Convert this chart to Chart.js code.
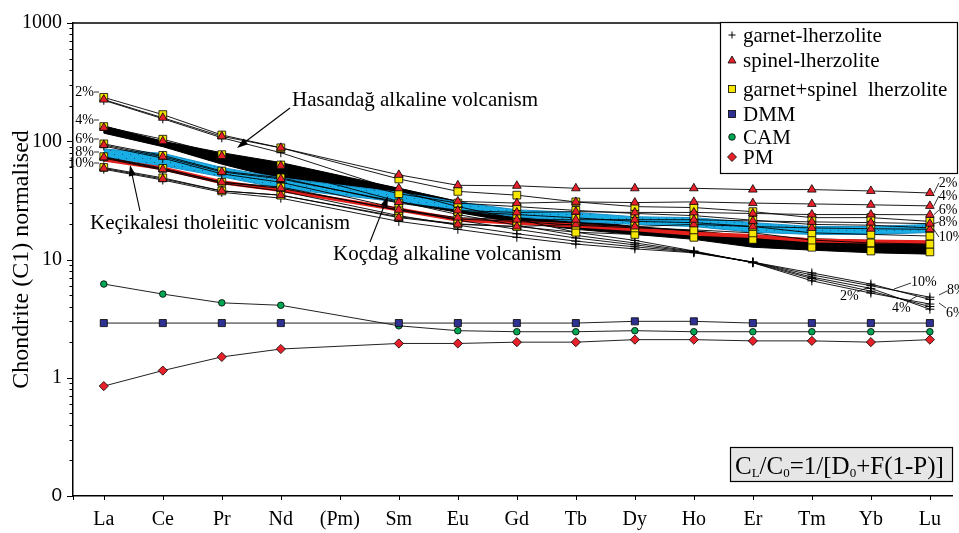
<!DOCTYPE html>
<html>
<head>
<meta charset="utf-8">
<script src="https://cdn.jsdelivr.net/npm/chart.js@4.4.1/dist/chart.umd.min.js"></script>
<style>
  html, body { margin: 0; padding: 0; background: #fff; }
  canvas { display: block; }
</style>
</head>
<body>
<canvas id="ree" width="959" height="533"></canvas>
<script>
// Rare earth elements along the x axis (Pm has no data)
const elements = ['La','Ce','Pr','Nd','(Pm)','Sm','Eu','Gd','Tb','Dy','Ho','Er','Tm','Yb','Lu'];
const yTicks = [0.1, 1, 10, 100, 1000];
const yTickText = ['0', '1', '10', '100', '1000'];
const meltDegrees = ['2%', '4%', '6%', '8%', '10%'];

// Source compositions (chondrite normalised)
const dmm = [2.9, 2.9, 2.9, 2.9, null, 2.9, 2.9, 2.9, 2.9, 3.0, 3.0, 2.9, 2.9, 2.9, 2.9];
const cam = [6.2, 5.1, 4.3, 4.1, null, 2.75, 2.5, 2.45, 2.45, 2.5, 2.45, 2.45, 2.45, 2.45, 2.45];
const pm  = [0.85, 1.15, 1.5, 1.75, null, 1.95, 1.95, 2.0, 2.0, 2.1, 2.1, 2.05, 2.05, 2.0, 2.1];

// Non-modal batch melts of spinel lherzolite, F = 2..10 %
const sp2  = [225, 158, 110, 88, null, 52, 42.4, 42, 40, 40, 40, 39, 39, 38, 36.5];
const sp4  = [130, 100, 75, 62, null, 40, 31, 30, 30.7, 30.3, 30.7, 30, 29.5, 29, 28.4];
const sp6  = [93, 74, 55, 48, null, 30.6, 26, 25, 25.4, 25, 25, 24.5, 24, 24, 23.9];
const sp8  = [73, 58, 45, 40, null, 26.3, 22.6, 21.7, 21.7, 21.7, 21.7, 21.2, 20.8, 20.5, 20.1];
const sp10 = [59, 48, 38, 35, null, 22.6, 19.8, 19, 19.8, 19, 19.8, 19, 18.5, 18.2, 18];

// Melts of garnet + spinel lherzolite
const gs2  = [235, 168, 113, 88, null, 48, 37.7, 35, 30.7, 28, 27.5, 25.4, 22.6, 22.6, 21];
const gs4  = [133, 104, 77, 63, null, 36, 30, 28, 26, 24.5, 23.5, 21.5, 19.8, 19.5, 18.5];
const gs6  = [95, 76, 56, 49, null, 30, 25.5, 24, 22.5, 21, 20.5, 19, 16.8, 16.3, 15.8];
const gs8  = [74, 59, 45, 41, null, 26, 22, 21, 19.5, 18.5, 17.8, 16.8, 14.6, 13.8, 13.5];
const gs10 = [60, 49, 38, 35, null, 23, 20, 19, 17, 16.3, 15.4, 14.8, 12.7, 11.8, 11.6];

// Melts of garnet lherzolite
const gt2  = [222, 155, 107, 80, null, 38, 28, 22, 17, 14.5, 11.8, 9.4, 6.6, 5.2, 4.2];
const gt4  = [128, 98, 72, 57, null, 31, 24, 19.5, 16, 13.8, 11.7, 9.4, 6.9, 5.4, 4.0];
const gt6  = [91, 72, 53, 45, null, 27, 21.5, 18, 15.2, 13.3, 11.6, 9.5, 7.1, 5.7, 3.8];
const gt8  = [72, 57, 44, 38, null, 23.5, 19.5, 16.5, 14.3, 12.8, 11.5, 9.5, 7.4, 6.0, 4.8];
const gt10 = [58, 47, 37, 33, null, 21, 18, 15.4, 13.5, 12.3, 11.4, 9.5, 7.7, 6.2, 4.6];

// Fields of the volcanic suites
const hasanUpper = [135, 100, 80, 66, null, 40, 31, 24.5, 21.7, 19, 17.5, 15.7, 15, 14.5, 14.2];
const hasanLower = [117, 90, 64, 48, null, 31, 25, 20.5, 18, 16.3, 14.8, 12.7, 12, 11.4, 11.1];
const kocUpper   = [86, 79, 60, 49, null, 37, 30.6, 26.3, 25, 23, 22.6, 20.5, 19, 19, 19.8];
const kocLower   = [68, 62, 50, 40, null, 30.6, 26.3, 23, 21, 19.8, 19, 17, 16.3, 16.3, 16.9];
const kecikalesi = [70, 59, 45, 38.6, null, 26.5, 21.7, 20.5, 19.4, 18, 16.5, 15.8, 14.5, 14.2, 14];

const legendItems = ['garnet-lherzolite', 'spinel-lherzolite', 'garnet+spinel  lherzolite', 'DMM', 'CAM', 'PM'];

const SERIF = "'Liberation Serif', 'Times New Roman', serif";
const SANS = "'Liberation Sans', Arial, sans-serif";

const pts = arr => arr.map((v, i) => ({ x: i, y: v })).filter(p => p.y !== null);

// Cyan stipple used for the Koçdağ field
function stipple() {
  const c = document.createElement('canvas');
  c.width = 8; c.height = 8;
  const g = c.getContext('2d');
  g.fillStyle = '#19ade6';
  g.fillRect(0, 0, 8, 8);
  g.fillStyle = 'rgba(20,60,90,0.75)';
  g.fillRect(2, 2, 1, 1);
  g.fillRect(6, 6, 1, 1);
  return g.createPattern(c, 'repeat');
}

function curve(arr, order, color = '#000', width = 0.9) {
  return { data: pts(arr), borderColor: color, borderWidth: width, pointRadius: 0,
           fill: false, tension: 0, order };
}
function marks(arr, style, bg, r, order, bw = 0.8) {
  return { data: pts(arr), showLine: false, pointStyle: style, pointRadius: r,
           pointBackgroundColor: bg, pointBorderColor: '#000', pointBorderWidth: bw, order };
}

const spinel = [sp2, sp4, sp6, sp8, sp10];
const mixed = [gs2, gs4, gs6, gs8, gs10];
const garnet = [gt2, gt4, gt6, gt8, gt10];

const datasets = [];
// fields
datasets.push({ data: pts(hasanUpper), borderColor: '#000', borderWidth: 1, pointRadius: 0, fill: false, order: 12 });
datasets.push({ data: pts(hasanLower), borderColor: '#000', borderWidth: 1, pointRadius: 0, fill: '-1', backgroundColor: '#000', order: 12 });
datasets.push({ data: pts(kocUpper), borderColor: '#1590c8', borderWidth: 1, pointRadius: 0, fill: false, order: 11 });
datasets.push({ data: pts(kocLower), borderColor: '#1590c8', borderWidth: 1, pointRadius: 0, fill: '-1', backgroundColor: stipple(), order: 11 });
datasets.push(curve(kecikalesi, 10, '#e3201b', 4));
// melting curves
[...garnet, ...mixed, ...spinel].forEach(a => datasets.push(curve(a, 8)));
// source compositions
datasets.push(curve(dmm, 7, '#222', 1));
datasets.push(curve(cam, 7, '#222', 1));
datasets.push(curve(pm, 7, '#222', 1));
// symbols
garnet.forEach(a => datasets.push(marks(a, 'cross', '#000', 4.5, 4, 1)));
mixed.forEach(a => datasets.push(marks(a, 'rect', '#f7e600', 5.5, 3)));
spinel.forEach(a => datasets.push(marks(a, 'triangle', '#e8202a', 5, 2)));
datasets.push(marks(dmm, 'rect', '#2e3192', 5, 1));
datasets.push(marks(cam, 'circle', '#00a651', 3.3, 1));
datasets.push(marks(pm, 'rectRot', '#e8202a', 4.6, 1));

function arrow(ctx, x1, y1, x2, y2) {
  const a = Math.atan2(y2 - y1, x2 - x1);
  const L = 11, W = 3.6;
  ctx.beginPath();
  ctx.moveTo(x1, y1);
  ctx.lineTo(x2 - Math.cos(a) * L * 0.8, y2 - Math.sin(a) * L * 0.8);
  ctx.stroke();
  ctx.beginPath();
  ctx.moveTo(x2, y2);
  ctx.lineTo(x2 - Math.cos(a) * L - Math.sin(a) * W, y2 - Math.sin(a) * L + Math.cos(a) * W);
  ctx.lineTo(x2 - Math.cos(a) * L + Math.sin(a) * W, y2 - Math.sin(a) * L - Math.cos(a) * W);
  ctx.closePath();
  ctx.fill();
}

function seg(ctx, x1, y1, x2, y2) {
  ctx.beginPath(); ctx.moveTo(x1, y1); ctx.lineTo(x2, y2); ctx.stroke();
}

const decor = {
  id: 'decor',
  beforeDraw(chart) {
    const c = chart.ctx;
    c.save(); c.fillStyle = '#fff'; c.fillRect(0, 0, chart.width, chart.height); c.restore();
  },
  afterDraw(chart) {
    const ctx = chart.ctx, ca = chart.chartArea, xs = chart.scales.x, ys = chart.scales.y;
    ctx.save();
    ctx.strokeStyle = '#000';
    ctx.fillStyle = '#000';

    // frame top
    ctx.lineWidth = 1.5;
    seg(ctx, ca.left, ca.top, ca.right, ca.top);

    // y tick marks: decades long, intermediate short
    ctx.lineWidth = 1;
    for (let d = -1; d <= 3; d++) {
      for (let m = 1; m <= 9; m++) {
        const v = m * Math.pow(10, d);
        if (v > 1000.0001) continue;
        const p = Math.round(ys.getPixelForValue(v)) + 0.5;
        seg(ctx, ca.left - (m === 1 ? 6 : 3.5), p, ca.left, p);
      }
    }
    // x tick marks
    const xt = [ca.left].concat(elements.map((e, i) => xs.getPixelForValue(i)));
    xt.forEach(px => { const p = Math.round(px) + 0.5; seg(ctx, p, ca.bottom, p, ca.bottom + 4); });

    // melt-degree labels at the light REE end
    ctx.font = '14px ' + SERIF;
    ctx.textBaseline = 'middle';
    ctx.textAlign = 'right';
    const leftY = [92, 120, 139, 152, 163];
    meltDegrees.forEach((t, i) => {
      ctx.fillText(t, 94, leftY[i]);
      ctx.lineWidth = 0.8;
      seg(ctx, 94, leftY[i], 99, leftY[i]);
    });

    // melt-degree labels at the heavy REE end (spinel curves)
    ctx.textAlign = 'left';
    const xLu = xs.getPixelForValue(14);
    const rightY = [183, 196, 210, 222, 237];
    spinel.forEach((a, i) => {
      const yc = ys.getPixelForValue(a[14]);
      seg(ctx, xLu + 4, yc, xLu + 9, rightY[i]);
      ctx.fillText(meltDegrees[i], xLu + 9, rightY[i]);
    });

    // melt-degree labels for the garnet curves
    const gl = [
      { t: '2%', x: 840, y: 296, l: [857, 292, 869, 287] },
      { t: '4%', x: 892, y: 308, l: [907, 302, 917, 296] },
      { t: '6%', x: 946, y: 313, l: [946, 308, 939, 303] },
      { t: '8%', x: 947, y: 290, l: [947, 291, 939, 295] },
      { t: '10%', x: 911, y: 282, l: [911, 283, 894, 289] }
    ];
    gl.forEach(g => { seg(ctx, g.l[0], g.l[1], g.l[2], g.l[3]); ctx.fillText(g.t, g.x, g.y); });

    // suite names and arrows
    ctx.font = '21px ' + SERIF;
    ctx.fillText('Hasandağ alkaline volcanism', 292, 100);
    ctx.fillText('Keçikalesi tholeiitic volcanism', 90, 223);
    ctx.fillText('Koçdağ alkaline volcanism', 333, 254);
    ctx.lineWidth = 1.1;
    arrow(ctx, 290, 108, 237, 148);
    arrow(ctx, 140, 211, 130, 165);
    arrow(ctx, 370, 242, 388, 196);

    // legend
    ctx.lineWidth = 1.2;
    ctx.fillStyle = '#fff';
    ctx.fillRect(720.5, 22.5, 237, 151);
    ctx.strokeRect(720.5, 22.5, 237, 151);
    const rowY = [35, 60, 89, 114, 137, 157];
    const mx = 732, tx = 743;
    ctx.fillStyle = '#000';
    ctx.font = '21px ' + SERIF;
    legendItems.forEach((t, i) => ctx.fillText(t, tx, rowY[i] + 1));
    // + garnet
    ctx.lineWidth = 1;
    seg(ctx, mx - 3.5, rowY[0], mx + 3.5, rowY[0]);
    seg(ctx, mx, rowY[0] - 3.5, mx, rowY[0] + 3.5);
    ctx.lineWidth = 0.8;
    // triangle
    ctx.fillStyle = '#e8202a';
    ctx.beginPath();
    ctx.moveTo(mx, rowY[1] - 4); ctx.lineTo(mx + 4, rowY[1] + 3); ctx.lineTo(mx - 4, rowY[1] + 3); ctx.closePath();
    ctx.fill(); ctx.stroke();
    // squares
    ctx.fillStyle = '#f7e600';
    ctx.fillRect(mx - 3.5, rowY[2] - 3.5, 7, 7); ctx.strokeRect(mx - 3.5, rowY[2] - 3.5, 7, 7);
    ctx.fillStyle = '#2e3192';
    ctx.fillRect(mx - 3.5, rowY[3] - 3.5, 7, 7); ctx.strokeRect(mx - 3.5, rowY[3] - 3.5, 7, 7);
    // circle
    ctx.fillStyle = '#00a651';
    ctx.beginPath(); ctx.arc(mx, rowY[4], 3.3, 0, Math.PI * 2); ctx.fill(); ctx.stroke();
    // diamond
    ctx.fillStyle = '#e8202a';
    ctx.beginPath();
    ctx.moveTo(mx, rowY[5] - 4.5); ctx.lineTo(mx + 4.5, rowY[5]); ctx.lineTo(mx, rowY[5] + 4.5); ctx.lineTo(mx - 4.5, rowY[5]); ctx.closePath();
    ctx.fill(); ctx.stroke();

    // melting equation
    ctx.fillStyle = '#e6e6e6';
    ctx.fillRect(730.5, 447.5, 222, 34);
    ctx.lineWidth = 1.2;
    ctx.strokeRect(730.5, 447.5, 222, 34);
    ctx.fillStyle = '#000';
    const parts = [['C', 0], ['L', 1], ['/C', 0], ['0', 1], ['=1/[D', 0], ['0', 1], ['+F(1-P)]', 0]];
    let x = 735;
    const base = 474;
    ctx.textBaseline = 'alphabetic';
    parts.forEach(([t, sub]) => {
      ctx.font = (sub ? '13px ' : '25px ') + SERIF;
      ctx.fillText(t, x, sub ? base + 3 : base);
      x += ctx.measureText(t).width;
    });
    ctx.restore();
  }
};

new Chart(document.getElementById('ree'), {
  type: 'line',
  data: { datasets },
  options: {
    responsive: false,
    animation: false,
    devicePixelRatio: 1,
    layout: { padding: { top: 15, right: 0, left: 0, bottom: 0 } },
    plugins: { legend: { display: false }, tooltip: { enabled: false } },
    scales: {
      x: {
        type: 'linear',
        min: -0.522,
        max: 14.387,
        afterBuildTicks: ax => { ax.ticks = elements.map((e, i) => ({ value: i })); },
        afterFit: s => { s.height = 37; },
        grid: { display: false, drawTicks: false },
        border: { display: true, color: '#000', width: 1.5 },
        ticks: {
          autoSkip: false, maxRotation: 0, padding: 12, color: '#000',
          font: { family: SERIF, size: 20 },
          callback: v => elements[v] ?? ''
        }
      },
      y: {
        type: 'logarithmic',
        min: 0.1,
        max: 1000,
        afterBuildTicks: ax => { ax.ticks = yTicks.map(v => ({ value: v, major: true })); },
        afterFit: s => { s.width = 73; },
        grid: { display: false, drawTicks: false },
        border: { display: true, color: '#000', width: 1.5 },
        title: {
          display: true, text: 'Chondrite (C1) normalised', color: '#000',
          font: { family: SERIF, size: 24 }, padding: { top: 7, bottom: 0 }
        },
        ticks: {
          autoSkip: false, padding: 11, color: '#000',
          font: ctx => (ctx.tick && ctx.tick.value === 0.1) ? { family: SANS, size: 19 } : { family: SERIF, size: 20 },
          callback: v => { const i = yTicks.indexOf(v); return i >= 0 ? yTickText[i] : ''; }
        }
      }
    }
  },
  plugins: [decor]
});
</script>
</body>
</html>
